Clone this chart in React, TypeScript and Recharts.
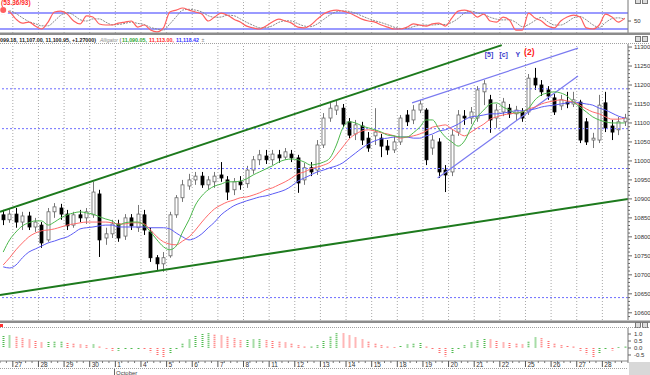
import React from "react";
import {
  ComposedChart,
  LineChart,
  Bar,
  Line,
  XAxis,
  YAxis,
  ReferenceLine,
  ReferenceDot,
} from "recharts";

const FONT = "Liberation Sans, Arial, sans-serif";

// trading days on the time axis (26 Sep is cut at the left edge)
const dayLabels = ["27", "28", "29", "30", "1", "4", "5", "6", "7", "8", "11", "12", "13", "14", "15", "18", "19", "20", "21", "22", "25", "26", "27", "28"];
const FIRST_DAY_BAR = 2;
const BARS_PER_DAY = 4;

const opens = [
  10858, 10845, 10860, 10839, 10855, 10826, 10831, 10792, 10866, 10876,
  10860, 10831, 10858, 10850, 10858, 10913, 10797, 10808, 10834, 10802,
  10850, 10824, 10858, 10813, 10745, 10729, 10750, 10858, 10903, 10934,
  10950, 10960, 10937, 10945, 10963, 10950, 10924, 10945, 10940, 10976,
  11003, 11013, 11003, 11016, 11010, 11018, 11008, 10950, 10982, 10976,
  11042, 11113, 11134, 11139, 11103, 11071, 11092, 11060, 11066, 11060,
  11039, 11029, 11050, 11121, 11108, 11134, 11134, 11034, 11050, 10976,
  10971, 11076, 11118, 11113, 11113, 11182, 11161, 11113, 11129, 11139,
  11124, 11129, 11129, 11218, 11200, 11187, 11166, 11145, 11155, 11150,
  11155, 11103, 11055, 11055, 11153, 11092, 11082, 11103,
];
const highs = [
  10871, 10876, 10876, 10866, 10866, 10850, 10839, 10876, 10889, 10887,
  10871, 10866, 10871, 10876, 10945, 10924, 10824, 10845, 10845, 10860,
  10860, 10884, 10871, 10824, 10752, 10760, 10866, 10910, 10950, 10966,
  10971, 10971, 10960, 10971, 10997, 10960, 10955, 10960, 10987, 11013,
  11029, 11029, 11029, 11029, 11034, 11029, 11016, 10995, 10997, 11055,
  11126, 11155, 11161, 11150, 11113, 11108, 11103, 11076, 11139, 11071,
  11055, 11066, 11121, 11134, 11147, 11161, 11139, 11068, 11060, 10989,
  11082, 11134, 11134, 11142, 11197, 11213, 11174, 11150, 11166, 11150,
  11145, 11139, 11229, 11245, 11213, 11197, 11176, 11174, 11182, 11182,
  11161, 11113, 11074, 11174, 11182, 11108, 11116, 11124,
];
const lows = [
  10831, 10837, 10824, 10818, 10818, 10813, 10771, 10787, 10850, 10845,
  10818, 10824, 10839, 10834, 10850, 10747, 10779, 10797, 10787, 10792,
  10818, 10813, 10805, 10734, 10713, 10708, 10745, 10850, 10892, 10924,
  10937, 10929, 10924, 10929, 10945, 10897, 10910, 10924, 10929, 10966,
  10989, 10992, 10989, 10995, 11003, 10997, 10916, 10937, 10960, 10963,
  11034, 11103, 11121, 11089, 11060, 11055, 11042, 11024, 11042, 11010,
  11016, 11021, 11042, 11092, 11097, 11126, 10989, 11016, 10955, 10918,
  10960, 11066, 11095, 11097, 11103, 11147, 11074, 11087, 11118, 11113,
  11108, 11103, 11121, 11187, 11171, 11161, 11121, 11134, 11139, 11142,
  11047, 11042, 11034, 11047, 11076, 11055, 11068, 11092,
];
const closes = [
  10845, 10860, 10839, 10855, 10826, 10839, 10784, 10866, 10879, 10860,
  10829, 10858, 10850, 10866, 10918, 10792, 10808, 10834, 10797, 10850,
  10829, 10860, 10818, 10745, 10729, 10745, 10858, 10903, 10937, 10950,
  10960, 10937, 10950, 10960, 10955, 10918, 10945, 10937, 10976, 11003,
  11016, 11003, 11018, 11008, 11024, 11008, 10942, 10982, 10971, 11042,
  11113, 11139, 11145, 11097, 11068, 11095, 11055, 11034, 11076, 11039,
  11029, 11050, 11113, 11103, 11134, 11150, 11003, 11055, 10971, 10963,
  11068, 11121, 11113, 11129, 11187, 11203, 11108, 11134, 11155, 11124,
  11134, 11113, 11218, 11200, 11182, 11171, 11129, 11161, 11150, 11161,
  11055, 11050, 11060, 11147, 11087, 11076, 11103, 11113,
];

// Alligator: lips (green), teeth (red), jaw (blue)
const lips = [
  10760, 10792, 10813, 10829, 10837, 10842, 10842, 10831, 10839, 10850,
  10858, 10863, 10866, 10863, 10860, 10853, 10847, 10842, 10831, 10837,
  10839, 10839, 10831, 10813, 10792, 10774, 10766, 10776, 10813, 10845,
  10884, 10908, 10924, 10934, 10939, 10945, 10945, 10947, 10953, 10963,
  10971, 10979, 10987, 10997, 11003, 11005, 11003, 10997, 10989, 10992,
  10997, 11008, 11042, 11087, 11103, 11100, 11092, 11087, 11082, 11076,
  11068, 11066, 11063, 11063, 11074, 11089, 11108, 11108, 11084, 11063,
  11050, 11039, 11053, 11087, 11116, 11134, 11150, 11153, 11142, 11134,
  11126, 11129, 11139, 11161, 11174, 11179, 11182, 11179, 11171, 11155,
  11142, 11129, 11116, 11108, 11103, 11100, 11100, 11100,
];
const teeth = [
  10726, 10745, 10766, 10784, 10800, 10810, 10816, 10818, 10821, 10826,
  10831, 10834, 10837, 10839, 10839, 10839, 10839, 10837, 10834, 10834,
  10837, 10837, 10834, 10818, 10800, 10787, 10781, 10779, 10789, 10800,
  10818, 10839, 10858, 10874, 10884, 10892, 10897, 10903, 10905, 10910,
  10916, 10924, 10929, 10937, 10945, 10955, 10966, 10971, 10979, 10984,
  10989, 10997, 11016, 11037, 11058, 11071, 11079, 11082, 11079, 11074,
  11071, 11066, 11060, 11063, 11066, 11071, 11079, 11089, 11092, 11095,
  11084, 11074, 11066, 11076, 11087, 11097, 11110, 11116, 11121, 11124,
  11126, 11129, 11137, 11142, 11150, 11155, 11158, 11161, 11158, 11155,
  11147, 11137, 11129, 11124, 11116, 11110, 11110, 11113,
];
const jaw = [
  10721, 10718, 10726, 10745, 10760, 10768, 10776, 10784, 10789, 10795,
  10800, 10810, 10821, 10824, 10826, 10829, 10831, 10831, 10826, 10826,
  10826, 10826, 10826, 10824, 10824, 10824, 10821, 10810, 10800, 10792,
  10797, 10808, 10824, 10839, 10858, 10871, 10882, 10889, 10895, 10900,
  10905, 10908, 10913, 10918, 10924, 10934, 10947, 10955, 10963, 10971,
  10976, 10982, 10987, 10995, 11008, 11021, 11034, 11045, 11053, 11058,
  11060, 11063, 11063, 11063, 11060, 11060, 11066, 11071, 11079, 11082,
  11089, 11097, 11108, 11116, 11118, 11121, 11124, 11124, 11126, 11129,
  11132, 11132, 11134, 11137, 11142, 11145, 11147, 11150, 11153, 11155,
  11153, 11150, 11147, 11139, 11134, 11126, 11118, 11113,
];

// stochastic %K (red) and %D (grey dotted)
const stochK = [
  91, 84, 57, 42, 46, 31, 20, 46, 84, 87,
  76, 50, 39, 69, 65, 39, 35, 35, 42, 46,
  50, 27, 35, 16, 9, 24, 84, 91, 99, 91,
  84, 76, 50, 65, 80, 72, 57, 46, 31, 24,
  20, 31, 46, 57, 50, 42, 27, 24, 35, 57,
  76, 87, 91, 87, 80, 69, 57, 50, 46, 35,
  27, 20, 20, 27, 39, 35, 31, 39, 42, 31,
  61, 87, 91, 84, 65, 76, 50, 46, 65, 54,
  16, 16, 80, 61, 50, 31, 24, 50, 65, 72,
  65, 24, 20, 35, 76, 65, 46, 61,
];
const stochD = [
  85, 88, 78, 62, 48, 40, 32, 32, 50, 72,
  82, 72, 55, 50, 58, 58, 46, 36, 37, 41,
  46, 41, 37, 26, 20, 16, 39, 66, 91, 94,
  91, 84, 70, 64, 65, 72, 70, 58, 45, 34,
  25, 25, 32, 45, 51, 50, 40, 31, 29, 39,
  56, 73, 85, 88, 86, 79, 69, 59, 51, 44,
  36, 27, 22, 22, 29, 34, 35, 35, 37, 37,
  45, 60, 80, 87, 80, 75, 64, 57, 54, 55,
  45, 29, 37, 52, 64, 47, 35, 35, 46, 62,
  67, 54, 36, 26, 44, 59, 62, 57,
];

// oscillator histogram
const histogram = [
  0.85, 0.9, 0.8, 0.7, 0.6, 0.5, 0.4, 0.42, 0.44, 0.45,
  0.35, 0.3, 0.25, 0.2, 0.25, 0.1, -0.05, -0.2, -0.2, -0.15,
  -0.15, -0.1, -0.12, -0.3, -0.5, -0.7, -0.4, -0.1, 0.3, 0.6,
  0.85, 1.0, 1.05, 0.95, 0.9, 0.8, 0.7, 0.55, 0.57, 0.6,
  0.62, 0.55, 0.5, 0.45, 0.4, 0.3, 0.2, 0.1, 0.1, 0.2,
  0.5, 0.8, 1.05, 1.03, 0.9, 0.75, 0.6, 0.45, 0.3, 0.2,
  0.1, 0.05, 0.15, 0.25, 0.3, 0.35, 0.1, -0.15, -0.4, -0.6,
  -0.4, -0.1, 0.2, 0.4, 0.55, 0.65, 0.6, 0.5, 0.4, 0.35,
  0.3, 0.25, 0.45, 0.75, 0.7, 0.5, 0.3, 0.2, 0.15, 0.1,
  -0.2, -0.45, -0.65, -0.4, -0.15, -0.18, 0.05, 0.1,
];

const priceTicks = [11300, 11250, 11200, 11150, 11100, 11050, 11000, 10950, 10900, 10850, 10800, 10750, 10700, 10650, 10600];
const histTicks = [1, 0.5, 0, -0.5];
const stochTicks = [50];
const stochLevels = [80, 20];
const priceLevels = [11190, 11085, 10980, 10640];

// trend lines as [bar, price] pairs
const greenTrends = [
  { from: [0, 10866], to: [78.3, 11305] },
  { from: [0, 10647], to: [98, 10900] },
];
const blueTrends = [
  { from: [64.3, 11153], to: [90.2, 11297] },
  { from: [68.3, 10955], to: [90.2, 11224] },
];
const waveLabels = [
  { bar: 76.3, price: 11280, text: "[5]" },
  { bar: 78.6, price: 11280, text: "[c]" },
  { bar: 80.8, price: 11280, text: "Y" },
  { bar: 82.6, price: 11286, text: "(2)" },
];

const N = closes.length;
const rows = closes.map((c, i) => ({
  x: i + 0.5,
  open: opens[i],
  high: highs[i],
  low: lows[i],
  close: c,
  range: [lows[i], highs[i]],
  lips: lips[i],
  teeth: teeth[i],
  jaw: jaw[i],
  k: stochK[i],
  d: stochD[i],
  hist: histogram[i],
  histUp: i === 0 || histogram[i] >= histogram[i - 1],
}));
const dayStarts = dayLabels.map((_, k) => FIRST_DAY_BAR + BARS_PER_DAY * k);
const barTicks = Array.from({ length: N + 1 }, (_, i) => i);
const minorPriceTicks = Array.from({ length: 72 }, (_, i) => 10590 + i * 10);
const zeroMargin = { top: 0, right: 0, bottom: 0, left: 0 };

function Candle(props: any) {
  const { x, y, width, height, payload } = props;
  if (x == null || !payload) return null;
  const { open, close, high, low } = payload;
  const top = Math.min(y, y + height);
  const h = Math.abs(height);
  const k = high > low ? h / (high - low) : 0;
  const yo = top + (high - open) * k;
  const yc = top + (high - close) * k;
  const cx = Math.round(x + width / 2) + 0.5;
  const up = close >= open;
  const bodyTop = Math.min(yo, yc);
  const bodyH = Math.max(1, Math.abs(yc - yo));
  return (
    <g>
      <line x1={cx} x2={cx} y1={top} y2={top + h} stroke={up ? "#777" : "#000"} />
      <rect
        x={cx - 1.5}
        y={bodyTop}
        width={3}
        height={bodyH}
        fill={up ? "#fff" : "#000"}
        stroke={up ? "#666" : "#000"}
        strokeWidth={0.8}
      />
    </g>
  );
}

function HistBar(props: any) {
  const { x, y, width, height, payload } = props;
  if (x == null || !payload) return null;
  const top = Math.min(y, y + height);
  const h = Math.abs(height);
  const cx = Math.round(x + width / 2) + 0.5;
  return (
    <line
      x1={cx}
      x2={cx}
      y1={top}
      y2={top + h}
      stroke={payload.histUp ? "#50bb50" : "#ff7070"}
      strokeWidth={2}
      strokeDasharray="1 1"
    />
  );
}

function PriceTick({ x, y, payload }: any) {
  const v = payload.value;
  const major = priceTicks.includes(v);
  return (
    <g>
      <line x1={x} x2={x + (major ? 4 : 2)} y1={y} y2={y} stroke="#666" />
      {major && (
        <text x={x + 6} y={y + 2} fontSize={6} fill="#333" fontFamily={FONT}>
          {v}
        </text>
      )}
    </g>
  );
}

function SmallTick({ x, y, payload, digits }: any) {
  const v = payload.value;
  return (
    <g>
      <line x1={x} x2={x + 3} y1={y} y2={y} stroke="#666" />
      <text x={x + 6} y={y + 2} fontSize={6} fill="#333" fontFamily={FONT}>
        {digits ? v.toFixed(digits) : v}
      </text>
    </g>
  );
}

function DateTick({ x, y, payload }: any) {
  const v = payload.value;
  const k = (v - FIRST_DAY_BAR) / BARS_PER_DAY;
  const isDay = Number.isInteger(k) && k >= 0 && k < dayLabels.length;
  if (!isDay) return <line x1={x} x2={x} y1={y} y2={y + 2} stroke="#777" />;
  return (
    <g>
      <line x1={x} x2={x} y1={y} y2={y + 6} stroke="#555" />
      <text x={x + 2} y={y + 6} fontSize={6.5} fill="#333" fontFamily={FONT}>
        {dayLabels[k]}
      </text>
    </g>
  );
}

const dayGrid = (key: string) =>
  dayStarts.map((d) => (
    <ReferenceLine key={key + d} x={d} stroke="#a8a8a8" strokeDasharray="1 2" ifOverflow="visible" />
  ));

function WindowIcons({ y }: { y: number }) {
  return (
    <g>
      <rect x={635.5} y={y + 0.5} width={5} height={5} fill="#ddd" stroke="#777" />
      <rect x={642.5} y={y + 0.5} width={5} height={5} fill="#ddd" stroke="#777" />
    </g>
  );
}

export default function App() {
  return (
    <div
      style={{
        position: "absolute",
        left: 0,
        top: 0,
        width: 650,
        height: 375,
        background: "#fff",
        overflow: "hidden",
      }}
    >
      {/* stochastic */}
      <div style={{ position: "absolute", left: 0, top: 0 }}>
        <LineChart width={650} height={33} data={rows} margin={zeroMargin}>
          <XAxis dataKey="x" type="number" domain={[0, N]} hide allowDataOverflow />
          <YAxis
            orientation="right"
            width={22}
            type="number"
            domain={[5, 129]}
            allowDataOverflow
            ticks={stochTicks}
            interval={0}
            tick={<SmallTick />}
            tickLine={false}
            tickSize={0}
            tickMargin={0}
            axisLine={{ stroke: "#777" }}
          />
          {dayGrid("s")}
          {stochLevels.map((v) => (
            <ReferenceLine key={v} y={v} stroke="#7878ff" strokeWidth={1.5} />
          ))}
          <Line dataKey="d" stroke="#8a8a8a" strokeDasharray="2 1" dot={false} isAnimationActive={false} type="monotone" />
          <Line dataKey="k" stroke="#ff5f5f" strokeWidth={1.2} dot={false} isAnimationActive={false} type="monotone" />
        </LineChart>
      </div>

      {/* price */}
      <div style={{ position: "absolute", left: 0, top: 44 }}>
        <ComposedChart width={650} height={276} data={rows} margin={zeroMargin}>
          <XAxis dataKey="x" type="number" domain={[0, N]} hide allowDataOverflow />
          <YAxis
            orientation="right"
            width={22}
            type="number"
            domain={[10581, 11308]}
            allowDataOverflow
            ticks={minorPriceTicks}
            interval={0}
            tick={<PriceTick />}
            tickLine={false}
            tickSize={0}
            tickMargin={0}
            axisLine={{ stroke: "#777" }}
          />
          {dayGrid("p")}
          {priceLevels.map((p) => (
            <ReferenceLine key={p} y={p} stroke="#6c6cff" strokeDasharray="2 2" />
          ))}
          {greenTrends.map((t, i) => (
            <ReferenceLine
              key={"g" + i}
              segment={[
                { x: t.from[0], y: t.from[1] },
                { x: t.to[0], y: t.to[1] },
              ]}
              stroke="#1d7a1d"
              strokeWidth={2}
              ifOverflow="visible"
            />
          ))}
          {blueTrends.map((t, i) => (
            <ReferenceLine
              key={"b" + i}
              segment={[
                { x: t.from[0], y: t.from[1] },
                { x: t.to[0], y: t.to[1] },
              ]}
              stroke="#7a7af0"
              strokeWidth={1.2}
              ifOverflow="visible"
            />
          ))}
          <Line dataKey="jaw" stroke="#5c5cf5" dot={false} isAnimationActive={false} type="monotone" />
          <Line dataKey="teeth" stroke="#ff6a6a" dot={false} isAnimationActive={false} type="monotone" />
          <Line dataKey="lips" stroke="#4cb84c" dot={false} isAnimationActive={false} type="monotone" />
          <Bar dataKey="range" barSize={4} shape={<Candle />} isAnimationActive={false} />
          {waveLabels.map((w) => (
            <ReferenceDot
              key={w.text}
              x={w.bar}
              y={w.price}
              r={1}
              fill="none"
              stroke="none"
              label={{
                value: w.text,
                position: "center",
                fill: w.text === "(2)" ? "#ff2020" : "#3c3ccc",
                fontSize: w.text === "(2)" ? 8.5 : 7,
                fontWeight: "bold",
                fontFamily: FONT,
              }}
            />
          ))}
        </ComposedChart>
      </div>

      {/* histogram + time axis */}
      <div style={{ position: "absolute", left: 0, top: 328 }}>
        <ComposedChart width={650} height={45} data={rows} margin={zeroMargin}>
          <XAxis
            dataKey="x"
            type="number"
            domain={[0, N]}
            allowDataOverflow
            ticks={barTicks}
            interval={0}
            tick={<DateTick />}
            tickLine={false}
            tickSize={0}
            tickMargin={0}
            height={12}
            axisLine={{ stroke: "#888" }}
          />
          <YAxis
            orientation="right"
            width={22}
            type="number"
            domain={[-0.93, 1.43]}
            allowDataOverflow
            ticks={histTicks}
            interval={0}
            tick={<SmallTick digits={1} />}
            tickLine={false}
            tickSize={0}
            tickMargin={0}
            axisLine={{ stroke: "#777" }}
          />
          <Bar dataKey="hist" barSize={2} shape={<HistBar />} isAnimationActive={false} />
        </ComposedChart>
      </div>

      <svg
        width={650}
        height={375}
        style={{ position: "absolute", left: 0, top: 0, pointerEvents: "none" }}
        fontFamily={FONT}
      >
        <text x={1} y={5} fontSize={6.5} fontWeight="bold" fill="#ff2a2a">
          (53.36/93)
        </text>
        <WindowIcons y={-2} />
        <rect x={0} y={32.5} width={650} height={2.5} fill="#8c8c8c" />
        <text x={0} y={42} fontSize={5.3} fontWeight="bold" fill="#222" textLength={96} lengthAdjust="spacingAndGlyphs">
          099.18, 11,107.00, 11,100.95, +1.27000)
        </text>
        <text x={100} y={42} fontSize={5.3} fontStyle="italic" fill="#888" textLength={18} lengthAdjust="spacingAndGlyphs">
          Alligator
        </text>
        <text x={119.5} y={42} fontSize={5.3} fontWeight="bold" fill="#888">
          (
        </text>
        <text x={122} y={42} fontSize={5.3} fontWeight="bold" fill="#2fa82f" textLength={25} lengthAdjust="spacingAndGlyphs">
          11,090.05,
        </text>
        <text x={149} y={42} fontSize={5.3} fontWeight="bold" fill="#ff2a2a" textLength={25} lengthAdjust="spacingAndGlyphs">
          11,113.00,
        </text>
        <text x={176} y={42} fontSize={5.3} fontWeight="bold" fill="#3434ff" textLength={23} lengthAdjust="spacingAndGlyphs">
          11,118.42
        </text>
        <text x={201.5} y={42} fontSize={5.3} fill="#888">
          ±
        </text>
        <WindowIcons y={36} />
        <line x1={0} x2={650} y1={43.5} y2={43.5} stroke="#a0a0a0" strokeDasharray="1 1" />

        <rect x={0} y={320.5} width={650} height={2.5} fill="#8c8c8c" />
        <rect x={0} y={324} width={3} height={3} fill="#ff3030" />
        <WindowIcons y={322} />
        <line x1={0} x2={650} y1={327.5} y2={327.5} stroke="#a0a0a0" strokeDasharray="1 1" />
        <line x1={0} x2={628} y1={368.5} y2={368.5} stroke="#a0a0a0" strokeDasharray="1 1" />
        <line x1={114.5} x2={114.5} y1={369} y2={375} stroke="#666" />
        <text x={116} y={374.5} fontSize={6} fill="#444">
          October
        </text>
        <rect x={629} y={362} width={21} height={13} fill="#d8d8d8" />
      </svg>
    </div>
  );
}
